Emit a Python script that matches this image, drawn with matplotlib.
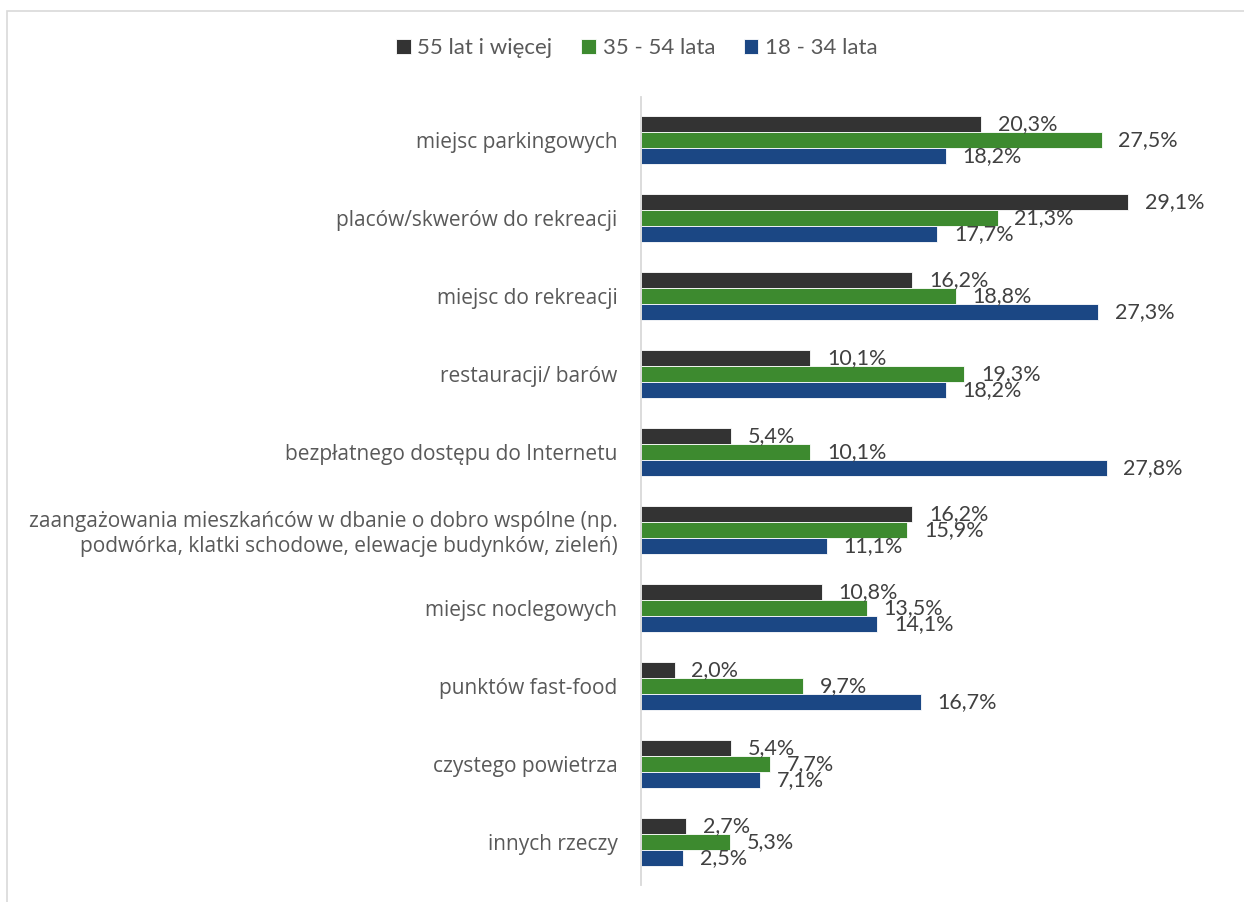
import matplotlib.pyplot as plt
import matplotlib.patches as patches
import numpy as np

categories = [
    "miejsc parkingowych",
    "placów/skwerów do rekreacji",
    "miejsc do rekreacji",
    "restauracji/ barów",
    "bezpłatnego dostępu do Internetu",
    "zaangażowania mieszkańców w dbanie o dobro wspólne (np.\npodwórka, klatki schodowe, elewacje budynków, zieleń)",
    "miejsc noclegowych",
    "punktów fast-food",
    "czystego powietrza",
    "innych rzeczy",
]
series_names = ["55 lat i więcej", "35 - 54 lata", "18 - 34 lata"]
age_55_plus = [20.3, 29.1, 16.2, 10.1, 5.4, 16.2, 10.8, 2.0, 5.4, 2.7]
age_35_54 = [27.5, 21.3, 18.8, 19.3, 10.1, 15.9, 13.5, 9.7, 7.7, 5.3]
age_18_34 = [18.2, 17.7, 27.3, 18.2, 27.8, 11.1, 14.1, 16.7, 7.1, 2.5]
colors = ["#333333", "#3d8a2f", "#1b4784"]

W, H = 1244, 902
fig = plt.figure(figsize=(W / 100, H / 100), dpi=100)

# light frame (only top/left edges visible in the original)
fig.patches.append(patches.Rectangle((7 / W, -0.1), 1.2, 1.1 - 11 / H,
                                     transform=fig.transFigure, fill=False,
                                     edgecolor="#d9d9d9", linewidth=1.2))

ax_left, ax_right = 641, 1200
ax_top, ax_bot = 101, 881
ax = fig.add_axes([ax_left / W, 1 - ax_bot / H, (ax_right - ax_left) / W, (ax_bot - ax_top) / H])
px_per_pct = 16.75
ax.set_xlim(0, (ax_right - ax_left) / px_per_pct)
n = len(categories)
ax.set_ylim(n - 0.5, -0.5)

y = np.arange(n)
bh = 16 / 78
all_series = [age_55_plus, age_35_54, age_18_34]
for k, (vals, c, name) in enumerate(zip(all_series, colors, series_names)):
    yy = y + (k - 1) * bh
    ax.barh(yy, vals, height=bh, color=c, edgecolor="white", linewidth=0.6, label=name)
    for yi, v in zip(yy, vals):
        ax.annotate(f"{v:.1f}%".replace(".", ","), (v, yi), xytext=(12, 0),
                    textcoords="offset points", ha="left", va="center",
                    fontsize=15.5, color="#404040", family="Lato")

ax.set_yticks(y)
ax.set_yticklabels(categories, fontsize=15, color="#595959", family="Open Sans",
                   multialignment="right")
ax.tick_params(axis="y", length=0, pad=17)
ax.set_xticks([])
for s in ["top", "right", "bottom"]:
    ax.spines[s].set_visible(False)
ax.spines["left"].set_color("#d9d9d9")
ax.spines["left"].set_linewidth(1.3)
ax.spines["left"].set_bounds(n - 0.5 + 0.05, -0.5 - 0.05)

handles, labels = ax.get_legend_handles_labels()
fig.legend(handles, labels, loc="center", bbox_to_anchor=(637 / W, 1 - 48 / H), ncol=3,
           frameon=False, prop={"family": "Lato", "size": 16}, labelcolor="#595959",
           handlelength=0.65, handleheight=0.65, handletextpad=0.3, columnspacing=1.3)

fig.savefig("out.png", dpi=100, facecolor="white")
